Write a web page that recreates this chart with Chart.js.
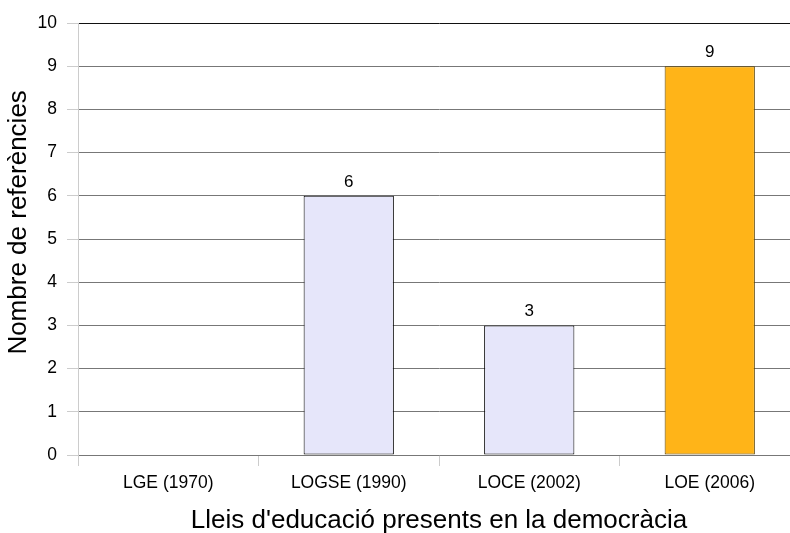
<!DOCTYPE html>
<html lang="ca">
<head>
<meta charset="UTF-8">
<title>Lleis d'educació</title>
<script src="https://cdn.jsdelivr.net/npm/chart.js"></script>
<style>
  html, body { margin: 0; padding: 0; background: #fff; overflow: hidden; }
  #wrap { width: 800px; height: 533px; }
</style>
</head>
<body>
<div id="wrap"><canvas id="lleisChart"></canvas></div>
<script>
// dades
const lleis = ['LGE (1970)', 'LOGSE (1990)', 'LOCE (2002)', 'LOE (2006)'];
const referencies = [0, 6, 3, 9];
const colorsBarra = ['#e6e6fa', '#e6e6fa', '#e6e6fa', '#ffb418'];
const colorsVora = ['#000000', '#000000', '#000000', '#5c4300'];
const ticksY = [0, 1, 2, 3, 4, 5, 6, 7, 8, 9, 10];

const FONT = '"Liberation Sans", Arial, sans-serif';

// etiquetes de valor damunt les barres
const etiquetes = {
    id: 'etiquetes',
    afterDatasetsDraw(chart) {
        const ctx = chart.ctx;
        const meta = chart.getDatasetMeta(0);
        ctx.save();
        ctx.font = '17px ' + FONT;
        ctx.fillStyle = '#000';
        ctx.textAlign = 'center';
        ctx.textBaseline = 'alphabetic';
        meta.data.forEach((bar, i) => {
            const v = referencies[i];
            if (!v) return;
            ctx.fillText(String(v), bar.x, bar.y - 9);
        });
        ctx.restore();
    }
};

new Chart(document.getElementById('lleisChart'), {
    type: 'bar',
    data: {
        labels: lleis,
        datasets: [{
            data: referencies,
            backgroundColor: colorsBarra,
            borderColor: colorsVora,
            borderWidth: 1,
            borderSkipped: false,
            categoryPercentage: 1,
            barPercentage: 0.5
        }]
    },
    options: {
        responsive: true,
        maintainAspectRatio: false,
        animation: false,
        layout: { padding: { top: 23, right: 0, left: 0, bottom: 0 } },
        plugins: {
            legend: { display: false },
            tooltip: { enabled: false }
        },
        scales: {
            x: {
                offset: true,
                afterFit(axis) { axis.height = 78; },
                grid: {
                    offset: true,
                    drawOnChartArea: false,
                    tickLength: 11,
                    tickColor: '#cccccc'
                },
                border: { display: false },
                ticks: {
                    color: '#000',
                    padding: 7,
                    font: { family: FONT, size: 17.5 }
                },
                title: {
                    display: true,
                    text: "Lleis d'educació presents en la democràcia",
                    color: '#000',
                    padding: { top: 6, bottom: -3 },
                    font: { family: FONT, size: 26 }
                }
            },
            y: {
                min: 0,
                max: 10,
                afterFit(axis) { axis.width = 78; },
                afterBuildTicks(axis) {
                    axis.ticks = ticksY.map(v => ({ value: v }));
                },
                grid: {
                    color: ctx => ctx.tick && ctx.tick.value === 10 ? '#111111' : '#777777',
                    tickColor: '#cccccc',
                    tickLength: 11
                },
                border: { color: '#cccccc' },
                ticks: {
                    color: '#000',
                    padding: 10,
                    font: { family: FONT, size: 17.5 }
                },
                title: {
                    display: true,
                    // espais inicials per pujar el títol com a l'original
                    text: '\u2002\u2002 Nombre de referències',
                    color: '#000',
                    padding: { top: 3, bottom: 0 },
                    font: { family: FONT, size: 26 }
                }
            }
        }
    },
    plugins: [etiquetes]
});
</script>
</body>
</html>
